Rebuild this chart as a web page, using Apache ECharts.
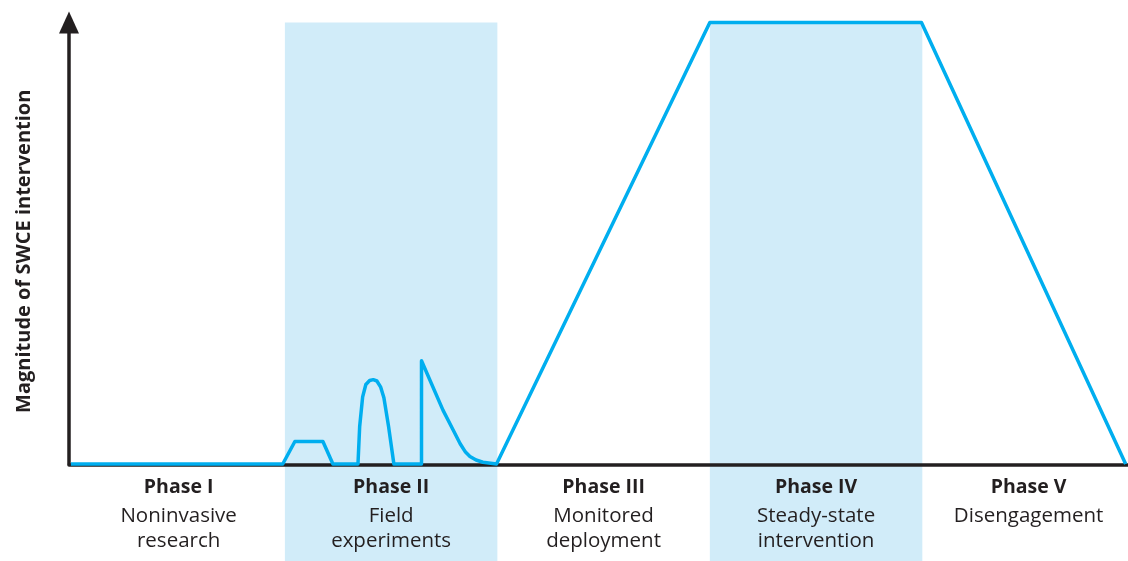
<!DOCTYPE html>
<html>
<head>
<meta charset="utf-8">
<script src="https://cdn.jsdelivr.net/npm/echarts@6/dist/echarts.min.js"></script>
<style>
html,body{margin:0;padding:0;background:#fff;}
#c{width:1128px;height:561px;}
</style>
</head>
<body>
<div id="c"></div>
<script>
// Phase categories and descriptions
const phases = ['Phase I', 'Phase II', 'Phase III', 'Phase IV', 'Phase V'];
const phaseDescriptions = [
  ['Noninvasive', 'research'],
  ['Field', 'experiments'],
  ['Monitored', 'deployment'],
  ['Steady-state', 'intervention'],
  ['Disengagement']
];
// Label positions (phase centres, in phase units)
const phaseCenters = [0.5, 1.5, 2.5, 3.5, 4.5];
// Shaded phase bands (x in phase units)
const bands = [[1, 2], [3, 4]];
// Magnitude curve: x in phase units, y in % of maximum
const curveX = [-0.007, 0.99, 1.047, 1.179, 1.226, 1.344, 1.352, 1.366, 1.381, 1.399, 1.416, 1.433, 1.451, 1.466, 1.488, 1.513, 1.643, 1.643, 1.744, 1.792, 1.825, 1.85, 1.871, 1.9, 1.932, 1.996, 3.0, 3.996, 4.957];
const curveY = [0, 0, 5.1, 5.1, 0, 0, 8.5, 15.2, 18.0, 18.9, 19.1, 18.8, 17.4, 15.0, 8.5, 0, 0, 23.4, 12.2, 7.7, 4.6, 2.7, 1.7, 0.9, 0.4, 0, 100, 100, 0];
const yTitle = 'Magnitude of SWCE intervention';

const ink = '#231f20';
const blue = '#00aeef';
const bandColor = '#d1ecf9';
const font = 'Open Sans';
const xMin = -0.016, xMax = 4.968;

const chart = echarts.init(document.getElementById('c'));
const axisOff = {
  axisTick: { show: false }, splitLine: { show: false }
};
const option = {
  animation: false,
  backgroundColor: '#ffffff',
  grid: { left: 69, right: 0, top: 22.5, bottom: 97 },
  xAxis: [
    Object.assign({
      type: 'value', min: xMin, max: xMax,
      offset: 1,
      axisLine: { show: true, onZero: false, lineStyle: { color: ink, width: 3.5 } },
      axisLabel: { show: false }
    }, axisOff),
    Object.assign({
      type: 'value', min: xMin, max: xMax, position: 'bottom', offset: 1,
      axisLine: { show: false },
      axisLabel: {
        margin: 5,
        customValues: phaseCenters,
        hideOverlap: false,
        formatter: function (v) {
          const i = phaseCenters.indexOf(v);
          if (i < 0) return '';
          return '{b|' + phases[i] + '}\n' + phaseDescriptions[i].map(s => '{n|' + s + '}').join('\n');
        },
        rich: {
          b: { fontFamily: font, fontWeight: 'bold', fontSize: 19.5, color: ink, lineHeight: 34, align: 'center' },
          n: { fontFamily: font, fontSize: 20.5, color: ink, lineHeight: 25, align: 'center' }
        }
      }
    }, axisOff)
  ],
  yAxis: {
    type: 'value', min: 0, max: 100,
    name: yTitle, nameLocation: 'middle', nameRotate: 90, nameGap: 35,
    nameTextStyle: { fontFamily: font, fontWeight: 'bold', fontSize: 20, color: ink, padding: [0, 16, 0, 0] },
    axisLine: { show: true, onZero: false, symbol: ['none', 'triangle'], symbolSize: [20, 22], lineStyle: { color: ink, width: 3.5 } },
    axisTick: { show: false }, axisLabel: { show: false }, splitLine: { show: false }
  },
  series: [{
    type: 'line',
    xAxisIndex: 0,
    data: curveX.map((x, i) => [x, curveY[i]]),
    showSymbol: false,
    smooth: false,
    clip: false,
    z: 5,
    lineStyle: { color: blue, width: 3.5, join: 'round' }
  }]
};
chart.setOption(option);

const yTop = chart.convertToPixel({ yAxisIndex: 0 }, 100);
const H = chart.getHeight();
chart.setOption({
  graphic: bands.map(b => {
    const x0 = chart.convertToPixel({ xAxisIndex: 0 }, b[0]);
    const x1 = chart.convertToPixel({ xAxisIndex: 0 }, b[1]);
    return {
      type: 'rect', z: -10, silent: true,
      shape: { x: x0, y: yTop, width: x1 - x0, height: H - yTop },
      style: { fill: bandColor }
    };
  })
});
</script>
</body>
</html>
